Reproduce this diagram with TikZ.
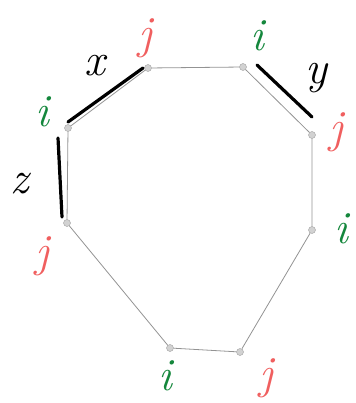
\documentclass[tikz,border=0pt]{standalone}
\usepackage{tikz}
\definecolor{igreen}{RGB}{20,135,60}
\definecolor{jred}{RGB}{240,95,95}
\begin{document}
\begin{tikzpicture}[x=1pt, y=-1pt,
    vtx/.style={circle, draw=gray!75, fill=gray!35, inner sep=0pt, minimum size=7pt},
    edge/.style={gray!85, line width=0.8pt},
    bar/.style={line width=3.2pt, line cap=round},
    ilab/.style={text=igreen, font=\fontsize{46}{46}\selectfont\itshape},
    jlab/.style={text=jred, font=\fontsize{46}{46}\selectfont\itshape},
    seglab/.style={font=\fontsize{46}{46}\selectfont\itshape}
  ]
    \useasboundingbox (0,0) rectangle (355,403);

    % vertices of the cycle
    \node[vtx] (a) at (68,128) {};
    \node[vtx] (b) at (148,68) {};
    \node[vtx] (c) at (243,67) {};
    \node[vtx] (d) at (312,135) {};
    \node[vtx] (e) at (312,230) {};
    \node[vtx] (f) at (240,352) {};
    \node[vtx] (g) at (170,348) {};
    \node[vtx] (h) at (67,223) {};

    \draw[edge] (a) -- (b) -- (c) -- (d) -- (e) -- (f) -- (g) -- (h) -- (a);

    % i / j labels
    \node[ilab] (ia) at (42,112) {i};
    \node[jlab] (jb) at (145,38) {j};
    \node[ilab] (ic) at (257,36) {i};
    \node[jlab] (jd) at (336,132) {j};
    \node[ilab] (ie) at (341,229) {i};
    \node[jlab] (jf) at (266,378) {j};
    \node[ilab] (ig) at (165,376) {i};
    \node[jlab] (jh) at (42,256) {j};

    % marked edges
    \coordinate (xs) at (68,122);
    \coordinate (xe) at (143,68);
    \coordinate (ys) at (257,65);
    \coordinate (ye) at (312,117);
    \coordinate (zs) at (58,138);
    \coordinate (ze) at (62,217);
    \draw[bar] (xs) -- (xe);
    \draw[bar] (ys) -- (ye);
    \draw[bar] (zs) -- (ze);

    \node[seglab] (lx) at (95,66) {x};
    \node[seglab] (ly) at (316,78) {y};
    \node[seglab] (lz) at (20,184) {z};
\end{tikzpicture}
\end{document}
